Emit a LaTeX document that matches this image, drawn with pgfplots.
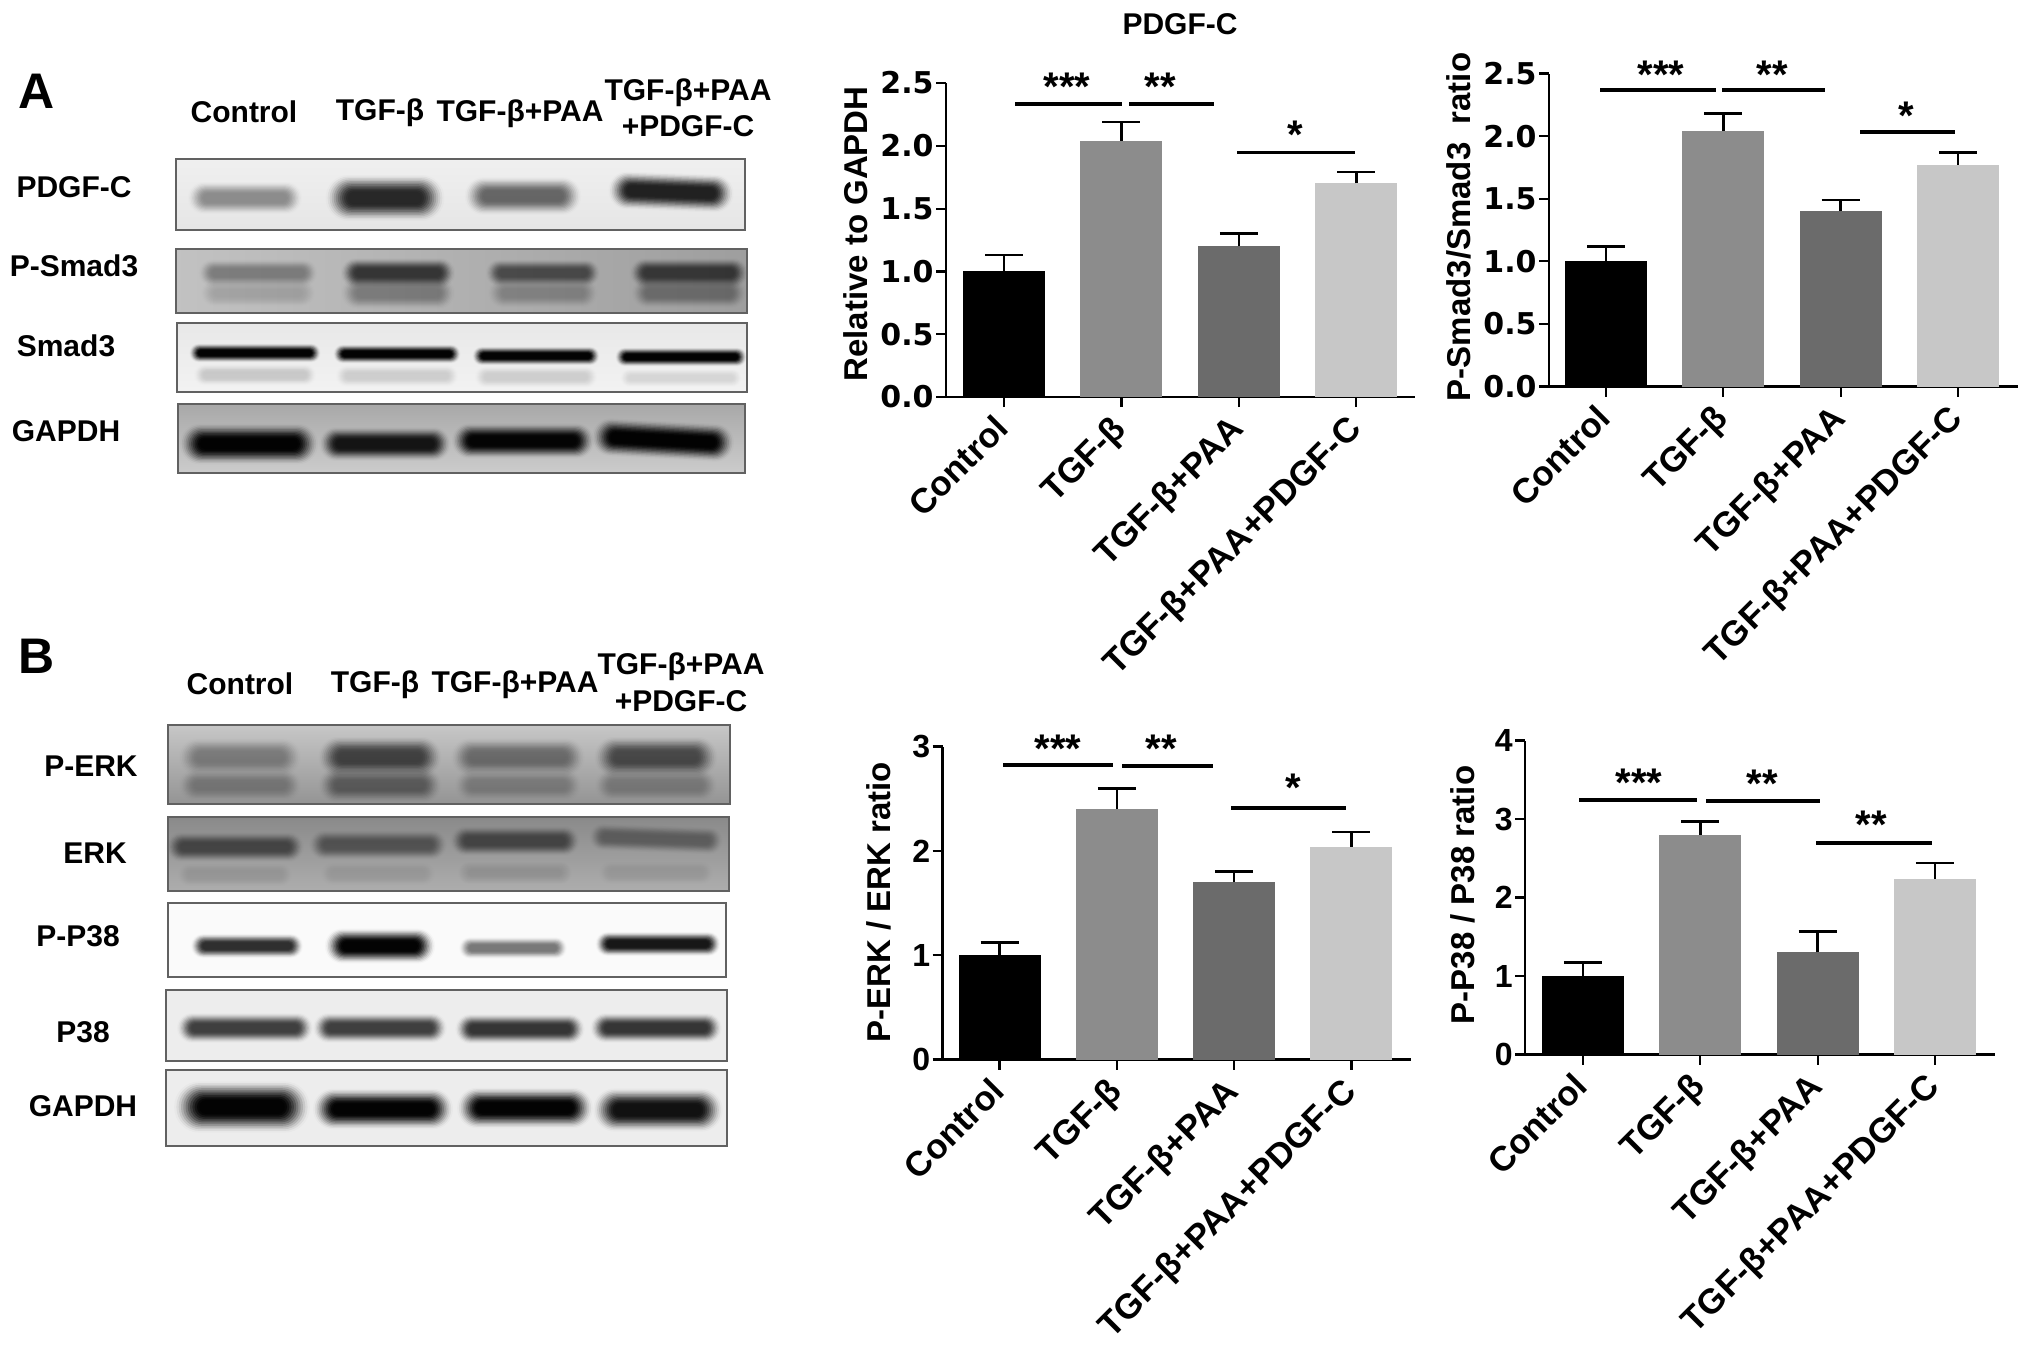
\documentclass[border=0pt]{standalone}
\usepackage{fontspec}
\setmainfont{Liberation Sans}
\newfontfamily\djfont{DejaVu Sans}
\usepackage{pgfplots}
\pgfplotsset{compat=1.18}
\definecolor{barA}{gray}{0.0}
\definecolor{barB}{gray}{0.55}
\definecolor{barC}{gray}{0.42}
\definecolor{barD}{gray}{0.78}
\newcommand{\fsb}[1]{\fontsize{#1}{#1}\selectfont\bfseries}
% blurred western-blot band: cx cy w h darkness angle
\newcommand{\band}[6]{%
 \begin{scope}[rotate around={#6:(#1,#2)}]
 \foreach \k in {0,...,11}{%
   \pgfmathsetmacro\tc{(\k+1)/12}%
   \pgfmathsetmacro\tp{\k/12}%
   \pgfmathsetmacro\dc{min(0.985,#5)*\tc*\tc*(3-2*\tc)}%
   \pgfmathsetmacro\dp{min(0.985,#5)*\tp*\tp*(3-2*\tp)}%
   \pgfmathsetmacro\al{1-(1-\dc)/(1-\dp)}%
   \pgfmathsetmacro\hh{(#4)*1.35/2*(1-0.8*\tp)}%
   \pgfmathsetmacro\ww{(#3)*1.06/2-(#4)*1.6/2*0.9*\tp}%
   \pgfmathsetmacro\rr{\hh*0.5*0.98}%
   \fill[black,opacity=\al,rounded corners=\rr pt] (#1-\ww,#2-\hh) rectangle (#1+\ww,#2+\hh);
 }%
 \end{scope}}
\newcommand{\panel}[5]{% x0 y0 x1 y1 fill-options
 \fill[#5] (#1,#2) rectangle (#3,#4);}
\newcommand{\frameb}[4]{\draw[line width=0.8pt,black!62] (#1,#2) rectangle (#3,#4);}
\pgfplotsset{
  wb/.style={
    scale only axis, ybar, bar shift=0pt, bar width=41pt,
    axis lines=left, axis line style={-,line width=1.1pt,black},
    ymin=0, xtick={0,1,2,3},
    xticklabels={Control,TGF-β,TGF-β+PAA,TGF-β+PAA+PDGF-C},
    xtick align=outside, ytick align=outside,
    major tick style={line width=1.1pt,black},
    major tick length=5pt,
    xtick pos=lower, ytick pos=left,
    xticklabel style={rotate=45,anchor=north east,font=\fsb{17.4pt},inner sep=0pt,xshift=-6pt,yshift=2pt},
    yticklabel style={inner sep=1pt,/pgf/number format/assume math mode=true},
    every axis plot/.append style={draw=none,
      /pgfplots/error bars/y dir=plus, /pgfplots/error bars/y explicit,
      /pgfplots/error bars/error bar style={draw=black,line width=1.3pt},
      /pgfplots/error bars/error mark options={rotate=90,mark size=9.5pt,line width=1.3pt,draw=black}},
  },
  wbtop/.style={
    ytick={0,0.5,1,1.5,2,2.5}, ymax=2.5,
    yticklabel style={font=\djfont\fsb{15pt},/pgf/number format/fixed,/pgf/number format/fixed zerofill,/pgf/number format/precision=1},
  },
  wbbot/.style={
    ymax=#1, ytick distance=1,
    yticklabel style={font=\fsb{16pt},/pgf/number format/fixed,/pgf/number format/precision=0},
  },
}
\newcommand{\lab}[3]{\node[font=\fsb{15pt},inner sep=0pt] at (#1,#2) {#3};}
\newcommand{\stars}[3]{\node[font=\fsb{20pt},inner sep=0pt,anchor=base] at (#1,#2+19) {#3};}
\newcommand{\sig}[3]{\draw[line width=1.6pt,black] (#1,#3) -- (#2,#3);}
\begin{document}
\begin{tikzpicture}[x=0.5pt,y=-0.5pt]
\useasboundingbox (0,0) rectangle (2031,1350);
\fill[white] (0,0) rectangle (2031,1350);

% ---------- Panel A blots ----------
\node[font=\fsb{25pt},inner sep=0pt] at (37,91) {A};
\lab{244}{112}{Control}\lab{380}{113}{TGF-β}\lab{520}{114}{TGF-β+PAA}
\lab{688}{93}{TGF-β+PAA}\lab{688}{126}{+PDGF-C}
\lab{74}{187}{PDGF-C}\lab{74}{266}{P-Smad3}\lab{66}{346}{Smad3}\lab{66}{431}{GAPDH}

\panel{176}{159}{745}{230}{top color=black!6,bottom color=black!10}
\band{245}{198}{108}{24}{0.38}{0}
\band{385}{198}{112}{34}{0.82}{0}
\band{523}{196}{110}{28}{0.55}{0}
\band{671}{192}{118}{28}{0.85}{-2}
\frameb{176}{159}{745}{230}

\panel{176}{249}{747}{313}{left color=black!24,right color=black!38}
\band{258}{293}{108}{20}{0.12}{0}
\band{398}{293}{108}{24}{0.30}{0}
\band{543}{293}{104}{22}{0.22}{0}
\band{689}{293}{108}{22}{0.32}{0}
\band{258}{273}{112}{20}{0.32}{0}
\band{398}{273}{108}{22}{0.68}{0}
\band{543}{273}{108}{20}{0.55}{0}
\band{689}{273}{112}{22}{0.65}{0}
\frameb{176}{249}{747}{313}

\panel{177}{323}{747}{392}{top color=black!9,bottom color=black!5}
\band{255}{375}{116}{16}{0.14}{0}
\band{397}{376}{116}{16}{0.12}{0}
\band{536}{377}{116}{16}{0.12}{0}
\band{681}{378}{116}{14}{0.10}{0}
\band{255}{353}{124}{14}{1}{0}
\band{397}{354}{120}{14}{1}{0}
\band{536}{356}{120}{14}{1}{0}
\band{681}{357}{124}{14}{1}{0}
\frameb{177}{323}{747}{392}

\panel{178}{404}{745}{473}{top color=black!34,bottom color=black!20}
\band{249}{444}{130}{30}{1}{0}
\band{385}{444}{124}{25}{0.88}{0}
\band{523}{441}{134}{26}{0.97}{0}
\band{663}{440}{134}{28}{1}{-3}
\frameb{178}{404}{745}{473}

% ---------- Panel B blots ----------
\node[font=\fsb{25pt},inner sep=0pt] at (37,656) {B};
\lab{240}{684}{Control}\lab{375}{685}{TGF-β}\lab{515}{685}{TGF-β+PAA}
\lab{681}{667}{TGF-β+PAA}\lab{681}{701}{+PDGF-C}
\lab{91}{766}{P-ERK}\lab{95}{853}{ERK}\lab{78}{936}{P-P38}\lab{83}{1032}{P38}\lab{83}{1106}{GAPDH}

\panel{168}{725}{730}{804}{top color=black!22,bottom color=black!42}
\band{240}{757}{116}{28}{0.30}{0}
\band{380}{757}{116}{30}{0.62}{0}
\band{518}{757}{126}{28}{0.38}{0}
\band{656}{757}{116}{30}{0.58}{0}
\band{240}{785}{116}{24}{0.25}{0}
\band{380}{785}{116}{26}{0.42}{0}
\band{518}{785}{120}{24}{0.22}{0}
\band{656}{785}{116}{24}{0.24}{0}
\frameb{168}{725}{730}{804}

\panel{168}{817}{729}{891}{top color=black!46,bottom color=black!32}
\band{235}{847}{130}{22}{0.52}{0}
\band{378}{845}{130}{22}{0.42}{0}
\band{515}{841}{122}{22}{0.52}{0}
\band{656}{839}{126}{20}{0.35}{-2}
\band{235}{875}{110}{18}{0.06}{0}
\band{378}{874}{110}{18}{0.05}{0}
\band{515}{873}{110}{18}{0.10}{0}
\band{656}{873}{110}{18}{0.05}{0}
\frameb{168}{817}{729}{891}

\panel{168}{903}{726}{977}{fill=black!2}
\band{247}{946}{106}{18}{0.8}{0}
\band{380}{946}{104}{26}{1}{0}
\band{513}{948}{102}{16}{0.5}{0}
\band{658}{944}{118}{18}{0.9}{0}
\frameb{168}{903}{726}{977}

\panel{166}{990}{727}{1061}{fill=black!7}
\band{245}{1028}{128}{22}{0.72}{0}
\band{380}{1028}{126}{22}{0.72}{0}
\band{520}{1029}{122}{22}{0.76}{0}
\band{656}{1028}{124}{22}{0.76}{0}
\frameb{166}{990}{727}{1061}

\panel{166}{1070}{727}{1146}{fill=black!7}
\band{242}{1107}{128}{38}{1}{0}
\band{383}{1109}{132}{30}{1}{0}
\band{525}{1108}{128}{30}{1}{0}
\band{658}{1110}{122}{32}{0.92}{0}
\frameb{166}{1070}{727}{1146}

% ---------- Chart 1 ----------
\begin{axis}[wb,wbtop,at={(946*0.5pt,-397*0.5pt)},anchor=south west,
  width=234.5pt,height=157pt,xmin=-0.494,xmax=3.5,
  ylabel={Relative to GAPDH},
  ylabel style={at={(axis description cs:-0.192,0.519)},anchor=center,font=\fsb{16.5pt}}]
\addplot[fill=barA] coordinates {(0,1.00) +- (0,0.13)};
\addplot[fill=barB] coordinates {(1,2.04) +- (0,0.15)};
\addplot[fill=barC] coordinates {(2,1.20) +- (0,0.10)};
\addplot[fill=barD] coordinates {(3,1.70) +- (0,0.09)};
\end{axis}
\node[font=\fsb{15pt},inner sep=0pt] at (1180,24) {PDGF-C};
\sig{1015}{1122}{104}\sig{1129}{1214}{104}\sig{1237}{1355}{152.5}
\stars{1067}{81}{***}\stars{1160}{81}{**}\stars{1295}{129}{*}

% ---------- Chart 2 ----------
\begin{axis}[wb,wbtop,at={(1549*0.5pt,-386.5*0.5pt)},anchor=south west,
  width=234.5pt,height=156.5pt,xmin=-0.486,xmax=3.511,
  ylabel={P-Smad3/Smad3\ \ ratio},
  ylabel style={at={(axis description cs:-0.192,0.51)},anchor=center,font=\fsb{16.5pt}}]
\addplot[fill=barA] coordinates {(0,1.00) +- (0,0.12)};
\addplot[fill=barB] coordinates {(1,2.04) +- (0,0.14)};
\addplot[fill=barC] coordinates {(2,1.40) +- (0,0.09)};
\addplot[fill=barD] coordinates {(3,1.77) +- (0,0.10)};
\end{axis}
\sig{1600}{1716}{90}\sig{1722}{1825}{90}\sig{1860}{1955}{132}
\stars{1661}{69}{***}\stars{1772}{69}{**}\stars{1906}{110}{*}

% ---------- Chart 3 ----------
\begin{axis}[wb,wbbot=3,at={(942.5*0.5pt,-1059.5*0.5pt)},anchor=south west,
  width=234.25pt,height=156.5pt,xmin=-0.486,xmax=3.508,
  ylabel={P-ERK / ERK ratio},
  ylabel style={at={(axis description cs:-0.135,0.503)},anchor=center,font=\fsb{16.5pt}}]
\addplot[fill=barA] coordinates {(0,1.00) +- (0,0.12)};
\addplot[fill=barB] coordinates {(1,2.40) +- (0,0.20)};
\addplot[fill=barC] coordinates {(2,1.70) +- (0,0.10)};
\addplot[fill=barD] coordinates {(3,2.04) +- (0,0.14)};
\end{axis}
\sig{1003}{1113}{765}\sig{1122}{1213}{766}\sig{1231}{1346}{808}
\stars{1058}{743}{***}\stars{1161}{743}{**}\stars{1293}{782}{*}

% ---------- Chart 4 ----------
\begin{axis}[wb,wbbot=4,at={(1525*0.5pt,-1054.5*0.5pt)},anchor=south west,
  width=235pt,height=157pt,xmin=-0.494,xmax=3.512,
  ylabel={P-P38 / P38 ratio},
  ylabel style={at={(axis description cs:-0.132,0.508)},anchor=center,font=\fsb{16.5pt}}]
\addplot[fill=barA] coordinates {(0,1.00) +- (0,0.17)};
\addplot[fill=barB] coordinates {(1,2.80) +- (0,0.17)};
\addplot[fill=barC] coordinates {(2,1.30) +- (0,0.27)};
\addplot[fill=barD] coordinates {(3,2.24) +- (0,0.20)};
\end{axis}
\sig{1579}{1697}{800}\sig{1706}{1820}{801}\sig{1816}{1932}{843}
\stars{1639}{777}{***}\stars{1762}{778}{**}\stars{1871}{819}{**}
\end{tikzpicture}
\end{document}
